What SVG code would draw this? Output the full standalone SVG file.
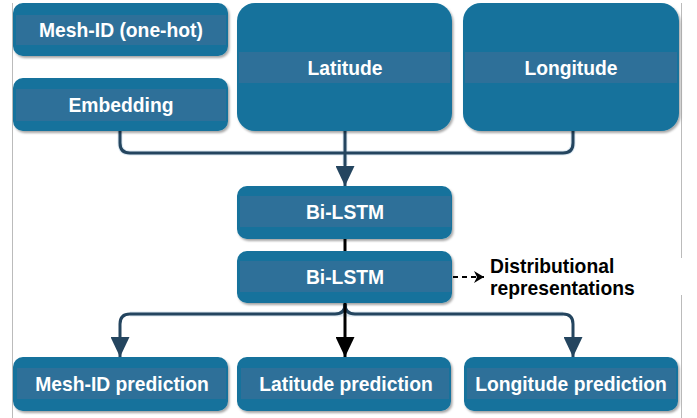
<svg xmlns="http://www.w3.org/2000/svg" width="697" height="418" viewBox="0 0 697 418">
<defs>
<filter id="sh" x="-10%" y="-10%" width="130%" height="140%">
<feDropShadow dx="1.5" dy="2" stdDeviation="1.2" flood-color="#000" flood-opacity="0.35"/>
</filter>
<marker id="tri" viewBox="0 0 20 19" refX="20" refY="9.5" markerWidth="20" markerHeight="19" markerUnits="userSpaceOnUse" orient="auto"><path d="M0,0 L20,9.5 L0,19 z" fill="#24455f"/></marker>
<marker id="triblk" viewBox="0 0 20 19" refX="20" refY="9.5" markerWidth="20" markerHeight="19" markerUnits="userSpaceOnUse" orient="auto"><path d="M0,0 L20,9.5 L0,19 z" fill="#000"/></marker>
<marker id="chev" viewBox="0 0 10 12" refX="10" refY="6" markerWidth="10" markerHeight="12" markerUnits="userSpaceOnUse" orient="auto"><path d="M0,0 L10,6 L0,12 L3,6 z" fill="#000"/></marker>
</defs>
<style>
.box{fill:#13729c;filter:url(#sh)}
.band{fill:#2e7099}
.lbl{font-family:"Liberation Sans",Arial,sans-serif;font-weight:bold;font-size:19.3px;fill:#fff;text-anchor:middle}
.ext{font-family:"Liberation Sans",Arial,sans-serif;font-weight:bold;font-size:19.3px;fill:#000}
.halo{fill:none;stroke:#dde9f2;stroke-width:5}
.con{fill:none;stroke:#24455f;stroke-width:3}
.blk{fill:none;stroke:#000;stroke-width:3}
.frame{stroke:#bbbbbb;stroke-width:1}
</style>
<g id="frame">
<line class="frame" x1="12.5" y1="3" x2="12.5" y2="418"/>
<line class="frame" x1="681.5" y1="3" x2="681.5" y2="258"/>
<line class="frame" x1="681.5" y1="295" x2="681.5" y2="418"/>
</g>
<g id="connectors">
<path class="halo" d="M120,131 V143 Q120,153 130,153 H563 Q573,153 573,143 V131 M345,131 V165"/>
<path class="con" d="M120,131 V143 Q120,153 130,153 H563 Q573,153 573,143 V131"/>
<path class="con" d="M345,131 V186" marker-end="url(#tri)"/>
<line class="blk" x1="345" y1="239" x2="345" y2="251"/>
<path d="M453,277 H484" fill="none" stroke="#000" stroke-width="2" stroke-dasharray="5,4" marker-end="url(#chev)"/>
<path class="halo" d="M345,303 V314 M130,314 H563"/>
<path class="con" d="M345,304 Q345,314 335,314 H130 Q120,314 120,324 V357" marker-end="url(#tri)"/>
<path class="con" d="M345,304 Q345,314 355,314 H563 Q573,314 573,324 V357" marker-end="url(#tri)"/>
<path class="blk" d="M345,303 V357" marker-end="url(#triblk)"/>
</g>
<g id="mesh-id">
<rect class="box" x="13" y="3" width="215" height="53" rx="10"/>
<rect class="band" x="16" y="15" width="210" height="30"/>
<text class="lbl" x="121" y="37">Mesh-ID (one-hot)</text>
</g>
<g id="embedding">
<rect class="box" x="13" y="78" width="215" height="53" rx="10"/>
<rect class="band" x="16" y="89" width="210" height="32"/>
<text class="lbl" x="121" y="112">Embedding</text>
</g>
<g id="latitude">
<rect class="box" x="237" y="3" width="215" height="128" rx="18"/>
<rect class="band" x="239" y="52" width="211" height="31"/>
<text class="lbl" x="345" y="75">Latitude</text>
</g>
<g id="longitude">
<rect class="box" x="463" y="3" width="216" height="128" rx="18"/>
<rect class="band" x="465" y="52" width="212" height="31"/>
<text class="lbl" x="571" y="75">Longitude</text>
</g>
<g id="bilstm1">
<rect class="box" x="237" y="186" width="215" height="53" rx="10"/>
<rect class="band" x="240" y="196" width="211" height="31"/>
<text class="lbl" x="345" y="219">Bi-LSTM</text>
</g>
<g id="bilstm2">
<rect class="box" x="237" y="251" width="215" height="52" rx="10"/>
<rect class="band" x="240" y="261" width="211" height="31"/>
<text class="lbl" x="345" y="284">Bi-LSTM</text>
</g>
<g id="distributional">
<text class="ext" x="490" y="273">Distributional</text>
<text class="ext" x="490" y="295">representations</text>
</g>
<g id="mesh-pred">
<rect class="box" x="13" y="357" width="215" height="54" rx="10"/>
<rect class="band" x="17" y="368" width="209" height="31"/>
<text class="lbl" x="122" y="391">Mesh-ID prediction</text>
</g>
<g id="lat-pred">
<rect class="box" x="237" y="357" width="214" height="54" rx="10"/>
<rect class="band" x="241" y="368" width="208" height="31"/>
<text class="lbl" x="346" y="391">Latitude prediction</text>
</g>
<g id="lon-pred">
<rect class="box" x="464" y="357" width="214" height="54" rx="10"/>
<rect class="band" x="467" y="368" width="209" height="31"/>
<text class="lbl" x="571" y="391">Longitude prediction</text>
</g>
</svg>
